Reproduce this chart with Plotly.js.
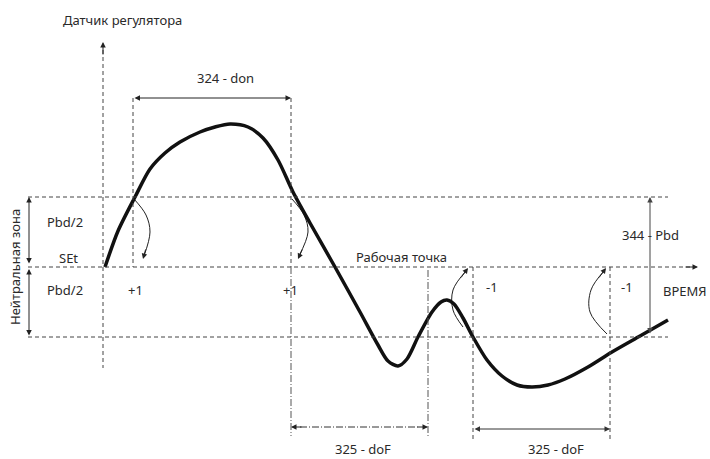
<!DOCTYPE html>
<html>
<head>
<meta charset="utf-8">
<script src="https://cdn.plot.ly/plotly-3.0.1.min.js"></script>
<style>html,body{margin:0;padding:0;background:#fff;}#chart{width:710px;height:459px;}</style>
</head>
<body>
<div id="chart"></div>
<script>
// ---- data ----
const curveX = [105,118,135,150,165,180,200,215,230,248,263,278,293,310,335,360,378,388,398,407,418,432,441,447,454,463,473,487,502,517,532,548,565,588,612,640,668];
const curveY = [267,231,197,169,153,142,132,127,124,127,138,160,192,223,267,312,345,361,366,359,337,312,302,300,304,318,337,360,376,385,387,385,379,367,352,336,320];

const hookA_X = [134,146,150,144];
const hookA_Y = [199,215,232,256];
const hookB_X = [292,304,308,299];
const hookB_Y = [199,215,232,256];
const hookC_X = [463,453,453,466];
const hookC_Y = [327,310,290,271];
const hookD_X = [607,590,591,604];
const hookD_Y = [334,312,290,271];

const labelTexts = ["Датчик регулятора","324 - don","Pbd/2","SEt","Pbd/2","+1","+1","Рабочая точка","-1","-1","344 - Pbd","ВРЕМЯ","325 - doF","325 - doF"];
const labelX = [122,225,65,68,65,135,290,401,492,627,650,709,363,556];
const labelY = [20,78,222,258,290,290,290,257,287,287,235,291,449,449];
const sideLabel = "Нейтральная зона";

// ---- styles ----
const txtColor = '#2a2a2a';
const lineColor = '#444';
const dashPat = '4px,3px';
const dashDot = '7px,2px,1px,2px';

function ln(x0,y0,x1,y1,dash,color,w){
  return {type:'line',xref:'x',yref:'y',x0:x0,y0:y0,x1:x1,y1:y1,
    line:{color:color||lineColor,width:w||1,dash:dash||dashPat}};
}
function arrow(x,y,ax,ay,side,color,w){
  return {x:x,y:y,ax:ax,ay:ay,xref:'x',yref:'y',axref:'x',ayref:'y',text:'',
    showarrow:true,arrowhead:2,startarrowhead:2,arrowside:side||'end',
    arrowsize:1.1,startarrowsize:1.1,arrowwidth:w||1,arrowcolor:color||'#222',standoff:0,startstandoff:0};
}

const shapes = [
  ln(103,50,103,368),          // vertical axis
  ln(28,197,668,197),          // upper band
  ln(28,267,690,267),          // set point / time axis
  ln(28,337,668,337),          // lower band
  ln(133,98,133,267),
  ln(291,98,291,267),
  ln(291,267,291,436,dashDot,'#555'),
  ln(428,270,428,436,dashDot,'#555'),
  ln(473,267,473,441),
  ln(610,267,610,441),
  ln(300,427,420,427,dashDot,'#333')
];

const annotations = [];
for (let i=0;i<labelTexts.length;i++){
  annotations.push({x:labelX[i],y:labelY[i],xref:'x',yref:'y',text:labelTexts[i],showarrow:false,
    xanchor: labelTexts[i]==='ВРЕМЯ' ? 'right' : 'center',yanchor:'middle',
    font:{family:'Noto Sans, Open Sans, sans-serif',size:13,color:txtColor}});
}
annotations.push({x:15,y:267,xref:'x',yref:'y',text:sideLabel,showarrow:false,textangle:-90,
  xanchor:'center',yanchor:'middle',font:{family:'Noto Sans, Open Sans, sans-serif',size:13,color:txtColor}});

// arrows
annotations.push(arrow(103,42,103,56));                   // axis arrow
annotations.push(arrow(698,267,684,267));                 // time arrow
annotations.push(arrow(291,98,133,98,'end+start'));       // 324 - don
annotations.push(arrow(29,197,29,265,'end+start'));       // left upper
annotations.push(arrow(29,269,29,337,'end+start'));       // left lower
annotations.push(arrow(650,197,650,335,'end+start','#444')); // 344 - Pbd
annotations.push(arrow(610,429,473,429,'end+start','#333')); // 325 - doF right
annotations.push(arrow(428,427,416,427));                 // 325 - doF left, right head
annotations.push(arrow(291,427,303,427));                 // left head
// hook arrowheads
annotations.push(arrow(143,259,146,248,'end','#222',1));
annotations.push(arrow(298,259,303,248,'end','#222',1));
annotations.push(arrow(468,268,460,279,'end','#222',1));
annotations.push(arrow(606,268,598,279,'end','#222',1));

function hook(xs,ys){
  return {x:xs,y:ys,type:'scatter',mode:'lines',hoverinfo:'skip',
    line:{color:'#222',width:1,shape:'spline',smoothing:1}};
}

const traces = [
  hook(hookA_X,hookA_Y), hook(hookB_X,hookB_Y), hook(hookC_X,hookC_Y), hook(hookD_X,hookD_Y),
  {x:curveX,y:curveY,type:'scatter',mode:'lines',hoverinfo:'skip',
   line:{color:'#111',width:3.5,shape:'spline',smoothing:0.8}}
];

const layout = {
  width:710,height:459,margin:{l:0,r:0,t:0,b:0},
  paper_bgcolor:'#fff',plot_bgcolor:'#fff',showlegend:false,
  xaxis:{range:[0,710],visible:false,fixedrange:true},
  yaxis:{range:[459,0],visible:false,fixedrange:true},
  shapes:shapes,annotations:annotations
};

Plotly.newPlot('chart',traces,layout,{staticPlot:true,displayModeBar:false});
</script>
</body>
</html>
